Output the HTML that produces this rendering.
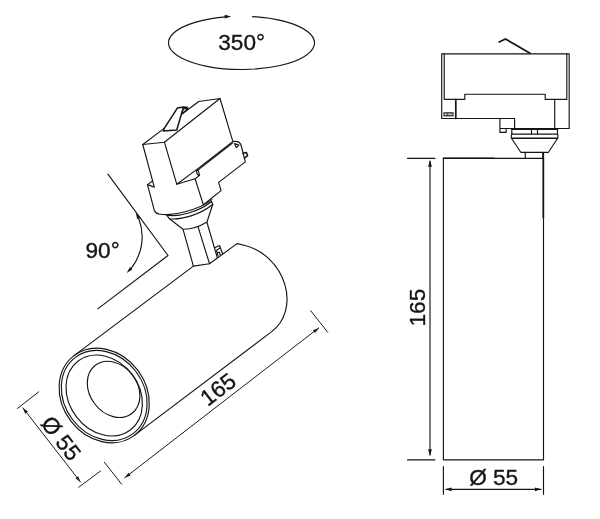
<!DOCTYPE html>
<html><head><meta charset="utf-8">
<style>
html,body{margin:0;padding:0;background:#fff;}
body{width:600px;height:519px;overflow:hidden;font-family:"Liberation Sans",sans-serif;}
svg{display:block;will-change:transform;}
text{font-family:"Liberation Sans",sans-serif;font-size:22.6px;fill:#151515;stroke:#151515;stroke-width:0.35;}
.l{fill:none;stroke:#151515;stroke-width:1.15;stroke-linecap:round;stroke-linejoin:round;}
.d{fill:none;stroke:#1c1c1c;stroke-width:1;stroke-linecap:round;}
.m{fill:none;stroke:#151515;stroke-width:1.5;stroke-linecap:round;stroke-linejoin:round;}
.t{fill:none;stroke:#262626;stroke-width:2.3;stroke-linecap:butt;}
.a{fill:#151515;stroke:none;}
</style></head><body>
<svg width="600" height="519" viewBox="0 0 600 519">
<rect width="600" height="519" fill="#fff"/>

<!-- 350 ellipse -->
<g id="rot">
<path class="l" d="M252.6 16.6 A73 26.6 0 1 1 226 16.9"/>
<path class="a" d="M231.2 16.5 L224.6 14.8 L224.8 18.6 Z"/>
<text x="218.3" y="49.8">350°</text>
</g>

<!-- 90 mark -->
<g id="ang">
<path class="l" d="M107.9 174.2 L168 255.5 L98.1 308.6"/>
<path class="l" d="M138.76 218.44 A51 51 0 0 1 131.22 268.32"/>
<path class="a" d="M135.70 212.70 L140.26 217.64 L137.26 219.24 Z"/>
<path class="a" d="M126.60 272.90 L130.02 267.12 L132.41 269.53 Z"/>
<text x="85.5" y="258">90°</text>
</g>

<!-- isometric adapter -->
<g id="adp">
<!-- top face -->
<path class="l" d="M142.75 144.5 L164.4 142.2 L220 98.5 L198.75 101.5 L182.4 113.7"/>
<path class="l" d="M142.75 144.5 L164.2 128.4"/>
<!-- lever -->
<path class="m" d="M163.25 131.1 L164.4 128.1 L177.5 107.9 L183.5 106.9 L187.6 107.5 L187.25 108.8 L183.1 108.3 L176.75 130 Z"/>
<path class="l" d="M183.1 108.3 L182.4 113.7 L187.4 109"/>
<!-- front face -->
<path class="l" d="M164.4 142.2 L176.75 184.2 L196.25 169.9"/>
<path class="l" d="M220 98.5 L232.9 141.6"/>
<path class="t" d="M196.6 170.3 L232.6 142.4"/>
<!-- left face -->
<path class="l" d="M142.75 144.5 L154.3 187.1 L147.5 184.6 L152.6 181"/>
<path class="l" d="M147.5 184.6 L154.25 210.2 Q155.3 213.4 159 214 C172 216.3 198 210.5 212 199.6"/>
<!-- fold under front face -->
<path class="l" d="M176.75 184.2 L195.1 178.75 L199.6 175.4 L198.1 170.1 L196.25 170.5 L197.4 174.6 L199.6 175.4"/>
<path class="l" d="M195.1 178.75 L203.3 204.6"/>
<!-- right tab -->
<path class="l" d="M232.9 141.6 C237 141 240.5 142.5 241.3 146 L245.3 161.9 L218.6 182.4 L221.1 190.6 L203.4 204.7"/>
<path class="l" d="M234.6 143.6 L236.25 147.6 L238.9 145 Z"/>
<path class="m" d="M243 153.2 L246.3 152.4 L247.6 155.6 L244.6 157.8"/>
</g>

<!-- joint + stem -->
<g id="stem">
<path class="l" d="M167 215.3 C179 217 198.5 212 211.6 201.5 L212.7 204.5"/>
<path class="l" d="M167 215.3 L169.5 218.8 C182 220 200 214.6 212.7 204.5"/>
<path class="l" d="M169.5 218.8 L183 229.2 Q195 229.4 207 222 L212.7 204.5"/>
<path class="l" d="M183.1 229.6 L193.4 266.1 L209.5 263.7 L198 226.6"/>
<path class="l" d="M207 222.5 L217.3 257.6"/>
<path class="l" d="M214.75 247.75 L219.5 245.5 L222.75 254"/>
<path class="l" d="M216.6 250.3 L220 248 M216.6 250.3 L218 255.8 M217.3 252.8 L219.4 252.2 L220.3 255"/>
</g>

<!-- cylinder -->
<g id="cyl">
<path class="l" d="M74.05 355.6 L193.4 266.1"/>
<path class="l" d="M209.5 263.7 L237.1 243.6"/>
<path class="l" d="M237.1 243.6 L245 245.5 A50 42 52.9 0 1 271.35 331.9 L134.35 435.4"/>
<ellipse class="l" cx="104.2" cy="395.5" rx="50" ry="42" transform="rotate(52.9 104.2 395.5)"/>
<ellipse class="l" cx="104.2" cy="395.5" rx="47.8" ry="39.8" transform="rotate(52.9 104.2 395.5)"/>
<ellipse class="l" cx="104.2" cy="395.5" rx="43.2" ry="35" transform="rotate(52.9 104.2 395.5)"/>
<ellipse class="l" cx="113.6" cy="389.4" rx="30.2" ry="23.8" transform="rotate(52.9 113.6 389.4)"/>
</g>

<!-- iso dims -->
<g id="idim">
<path class="d" d="M17.4 408.5 L38.75 391.8"/>
<path class="d" d="M78.75 487.25 L100.5 471"/>
<path class="d" d="M22.90 407.90 L80.50 482.00"/>
<path class="a" d="M22.90 407.90 L27.92 411.59 L25.24 413.68 Z"/>
<path class="a" d="M80.50 482.00 L75.48 478.31 L78.16 476.22 Z"/>
<text transform="translate(61.3 438.1) rotate(52)" text-anchor="middle" y="8">Ø 55</text>
<path class="d" d="M104.4 462.3 L121.7 484.3"/>
<path class="d" d="M310.7 310.7 L327.7 332.3"/>
<path class="d" d="M124.80 477.70 L318.75 327.90"/>
<path class="a" d="M124.80 477.70 L128.51 472.69 L130.59 475.38 Z"/>
<path class="a" d="M318.75 327.90 L315.04 332.91 L312.96 330.22 Z"/>
<text transform="translate(217.9 389.2) rotate(-37.5)" text-anchor="middle" y="8">165</text>
</g>

<!-- side view -->
<g id="side">
<path class="m" style="stroke-width:1.7" d="M499.2 42.1 L505.4 38.9 L530 53.3"/>
<path class="l" d="M441.7 53.8 H569.2 V128.5 H514.6 V118.5 H441.7 Z"/>
<path class="l" d="M444.2 53.8 V99.3 H464.8 V94.2 H545.2 V99.3 H566.8 V53.8"/>
<path class="m" style="stroke-width:1.7" d="M455.8 99.3 V118.5"/>
<path class="l" d="M554.7 99.3 V128.5"/>
<rect x="443.4" y="112.2" width="10.2" height="4.2" fill="#2a2a2a"/>
<rect x="444.6" y="113.4" width="2" height="1.8" fill="#ddd"/>
<rect x="447.6" y="113.4" width="5" height="1.8" fill="#bbb"/>
<path class="l" d="M499.9 118.5 V132.3 H506.2 V128.5 H514.6 M499.9 128.5 H506.2"/>
<!-- collar -->
<path class="m" d="M511.8 129.3 H557.5"/>
<path class="l" d="M511.8 129.3 V134.1 H557.5 V129.3 M531.5 129.3 V134.1 M537.5 129.3 V134.1"/>
<path class="l" d="M511.8 134.1 Q510.8 136 511.5 138.3 M557.5 134.1 Q558.4 136 557.6 138.3"/>
<path class="m" d="M511.5 138.3 H557.6"/>
<path class="l" d="M511.5 138.3 L520.75 152.3 H548.5 L557.6 138.3"/>
<path class="l" d="M525.3 152.3 V158.3 M542.9 152.3 V158.3"/>
<!-- cylinder -->
<path class="l" d="M543.5 158.3 H443.4 V459.8 H543.5 V158.3"/>
<path class="m" style="stroke-width:1.7" d="M543.3 153.5 V217.4"/>
<path class="m" d="M443.4 158.3 H494"/>
<!-- dims -->
<path class="l" d="M407.5 158.3 H435 M407.5 459.8 H435"/>
<path class="l" d="M430 161 V455"/>
<path class="a" d="M430 160.3 L428.1 166.8 L431.9 166.8 Z"/>
<path class="a" d="M430 455.8 L428.1 449.3 L431.9 449.3 Z"/>
<text transform="translate(425.4 307.6) rotate(-90)" text-anchor="middle">165</text>
<path class="l" d="M443.4 466.5 V494.3 M543.5 466.5 V494.3"/>
<path class="l" d="M446 489.3 H541"/>
<path class="a" d="M445.3 489.3 L451.6 487.4 L451.6 491.2 Z"/>
<path class="a" d="M541.2 489.3 L534.9 487.4 L534.9 491.2 Z"/>
<text x="469.2" y="485">Ø 55</text>
</g>
</svg>
</body></html>
